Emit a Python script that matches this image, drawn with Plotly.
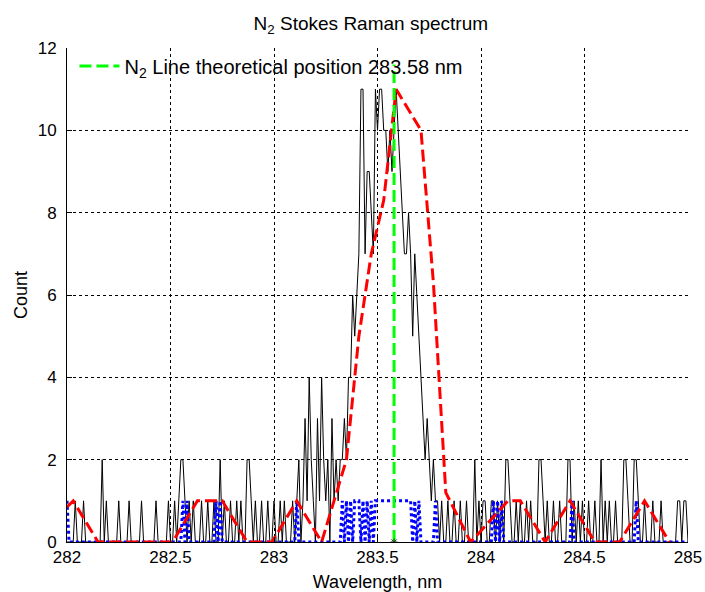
import plotly.graph_objects as go

# ---------------- data ----------------
# Measured spectrum (counts) sampled every 0.01 nm from 282.00 to 285.00 nm
wl_start = 282.0
wl_step = 0.01
counts = [
    0, 0, 0, 0, 1, 0, 0, 0, 1, 0,      # 282.00
    0, 0, 0, 0, 0, 0, 0, 2, 0, 1,      # 282.10
    0, 0, 0, 0, 0, 1, 0, 0, 0, 0,      # 282.20
    1, 0, 0, 0, 0, 0, 1, 0, 0, 0,      # 282.30
    0, 0, 0, 1, 0, 0, 0, 0, 0, 1,      # 282.40
    0, 0, 1, 0, 1, 2, 2, 1, 0, 1,      # 282.50
    0, 1, 0, 0, 0, 1, 0, 0, 1, 0,      # 282.60
    0, 1, 0, 0, 2, 0, 1, 0, 0, 1,      # 282.70
    0, 0, 1, 0, 1, 0, 0, 2, 2, 1,      # 282.80
    0, 1, 0, 0, 1, 0, 0, 1, 0, 0,      # 282.90
    1, 0, 0, 1, 0, 1, 0, 0, 0, 1,      # 283.00
    0, 1, 2, 0, 1, 3, 1, 4, 2, 1,      # 283.10
    0, 3, 1, 4, 2, 1, 2, 0, 3, 1,      # 283.20
    2, 1, 2, 2, 3, 2, 4, 4, 6, 5,      # 283.30
    6, 7, 11, 11, 7, 9, 9, 8, 7, 11,   # 283.40
    10, 11, 11, 10, 10, 9, 10, 9, 10, 11,  # 283.50
    10, 9, 8, 7, 7, 8, 7, 5, 7, 6,     # 283.60
    5, 4, 3, 2, 3, 2, 1, 2, 1, 1,      # 283.70
    0, 1, 0, 0, 1, 0, 0, 1, 0, 0,      # 283.80
    1, 0, 0, 1, 0, 0, 0, 2, 0, 1,      # 283.90
    0, 1, 1, 0, 0, 1, 1, 0, 1, 0,      # 284.00
    1, 0, 2, 2, 1, 0, 0, 1, 0, 1,      # 284.10
    0, 0, 1, 0, 1, 0, 0, 0, 2, 2,      # 284.20
    1, 0, 1, 0, 0, 1, 0, 0, 1, 0,      # 284.30
    0, 0, 2, 2, 0, 1, 0, 1, 0, 1,      # 284.40
    0, 0, 1, 0, 0, 1, 0, 0, 2, 0,      # 284.50
    1, 0, 1, 0, 0, 1, 0, 0, 0, 2,      # 284.60
    2, 1, 0, 0, 2, 2, 1, 0, 0, 1,      # 284.70
    0, 0, 0, 1, 0, 0, 0, 1, 0, 0,      # 284.80
    0, 0, 0, 0, 0, 1, 1, 0, 1, 1,      # 284.90
    0,                                 # 285.00
]

# Binary detection trace (same sampling)
detect = [
    1, 0, 0, 0, 0, 0, 0, 0, 0, 0,      # 282.00
    0, 0, 0, 0, 0, 0, 0, 0, 0, 0,      # 282.10
    0, 0, 0, 0, 0, 0, 0, 0, 0, 0,      # 282.20
    0, 0, 0, 0, 0, 0, 0, 0, 0, 0,      # 282.30
    0, 0, 0, 0, 0, 0, 0, 0, 0, 0,      # 282.40
    0, 0, 0, 0, 0, 0, 1, 0, 1, 0,      # 282.50
    0, 0, 0, 0, 0, 0, 0, 0, 0, 0,      # 282.60
    0, 0, 1, 0, 1, 0, 0, 0, 0, 0,      # 282.70
    0, 0, 0, 0, 0, 0, 0, 0, 0, 0,      # 282.80
    0, 0, 0, 0, 0, 0, 0, 0, 0, 0,      # 282.90
    0, 0, 0, 0, 0, 0, 0, 0, 0, 0,      # 283.00
    0, 1, 0, 0, 0, 0, 0, 0, 0, 0,      # 283.10
    0, 0, 0, 0, 0, 0, 0, 0, 0, 0,      # 283.20
    0, 0, 0, 1, 0, 1, 0, 1, 0, 1,      # 283.30
    1, 1, 0, 1, 0, 1, 0, 1, 0, 1,      # 283.40
    1, 1, 1, 1, 1, 1, 1, 1, 1, 1,      # 283.50
    1, 1, 1, 1, 1, 1, 1, 0, 1, 0,      # 283.60
    1, 0, 0, 0, 0, 0, 0, 0, 1, 0,      # 283.70
    0, 0, 0, 0, 0, 0, 0, 0, 0, 0,      # 283.80
    0, 0, 0, 0, 0, 0, 0, 0, 0, 0,      # 283.90
    0, 0, 0, 0, 0, 0, 1, 0, 1, 0,      # 284.00
    1, 0, 0, 0, 0, 0, 0, 0, 0, 0,      # 284.10
    0, 0, 0, 0, 0, 0, 0, 0, 0, 0,      # 284.20
    0, 0, 0, 0, 0, 0, 0, 0, 0, 0,      # 284.30
    0, 0, 0, 0, 1, 0, 0, 0, 0, 0,      # 284.40
    0, 0, 0, 0, 0, 0, 0, 0, 0, 0,      # 284.50
    0, 0, 0, 0, 0, 0, 0, 0, 0, 0,      # 284.60
    0, 0, 0, 0, 0, 1, 0, 0, 0, 0,      # 284.70
    0, 0, 0, 0, 0, 0, 0, 0, 0, 0,      # 284.80
    0, 0, 0, 0, 0, 0, 0, 0, 0, 0,      # 284.90
    0,                                 # 285.00
]

# Smoothed spectrum (coarser sampling)
smooth_wl = [282.00, 282.03, 282.09, 282.15, 282.21, 282.27, 282.33, 282.39,
             282.45, 282.51, 282.57, 282.63, 282.69, 282.75, 282.81, 282.87,
             282.93, 282.99, 283.05, 283.11, 283.17, 283.23, 283.29, 283.35,
             283.41, 283.47, 283.53, 283.59, 283.65, 283.71, 283.77, 283.83,
             283.89, 283.95, 284.01, 284.07, 284.13, 284.19, 284.25, 284.31,
             284.37, 284.43, 284.49, 284.55, 284.61, 284.67, 284.73, 284.79,
             284.85, 284.91]
smooth_cnt = [0.85, 1.0, 0.5, 0, 0, 0, 0, 0,
              0, 0, 0.5, 1.0, 1.0, 1.0, 0.5, 0,
              0, 0, 0.5, 1.0, 0.5, 0, 1.0, 2.0,
              5.0, 7.0, 8.3, 11.0, 10.5, 10.0, 6.3, 1.2,
              0.6, 0, 0.33, 0.67, 1.0, 1.0, 0.5, 0,
              0.5, 1.0, 0.5, 0, 0, 0, 0.5, 1.0,
              0.5, 0]

line_pos = 283.58
line_top = 11.6
legend_label = "N<sub>2</sub> Line theoretical position 283.58 nm"
title_text = "N<sub>2</sub> Stokes Raman spectrum"
x_label = "Wavelength, nm"
y_label = "Count"
x_ticks = [282, 282.5, 283, 283.5, 284, 284.5, 285]
x_ticktext = ["282", "282.5", "283", "283.5", "284", "284.5", "285"]
y_ticks = [0, 2, 4, 6, 8, 10, 12]

wl = [round(wl_start + wl_step * i, 2) for i in range(len(counts))]

FONT = "Liberation Sans, Arial, sans-serif"

fig = go.Figure()

fig.add_trace(go.Scatter(
    x=wl, y=counts, mode="lines",
    line=dict(color="black", width=1),
    showlegend=False, hoverinfo="skip"))

fig.add_trace(go.Scatter(
    x=wl, y=detect, mode="lines",
    line=dict(color="#0000FF", width=3, dash="3px,3px"),
    showlegend=False, hoverinfo="skip"))

fig.add_trace(go.Scatter(
    x=smooth_wl, y=smooth_cnt, mode="lines",
    line=dict(color="#FF0000", width=3, dash="12px,5px"),
    showlegend=False, hoverinfo="skip"))

fig.add_trace(go.Scatter(
    x=[line_pos, line_pos], y=[0, line_top], mode="lines",
    line=dict(color="#00FF00", width=3, dash="12px,5px"),
    name=legend_label, showlegend=True, hoverinfo="skip"))

fig.add_trace(go.Scatter(
    x=[line_pos], y=[0], mode="markers",
    marker=dict(symbol="asterisk-open", size=6, color="#333333",
                line=dict(width=1, color="#333333")),
    showlegend=False, hoverinfo="skip"))

fig.update_layout(
    width=705, height=592,
    margin=dict(l=67, r=17, t=48, b=50, autoexpand=False),
    paper_bgcolor="white", plot_bgcolor="white",
    font=dict(family=FONT, size=17, color="black"),
    title=dict(text=title_text, x=0.526, xanchor="center",
               y=1 - 23 / 592, yanchor="middle",
               font=dict(family=FONT, size=19, color="black")),
    legend=dict(x=0.012, y=1.003, xanchor="left", yanchor="top",
                bgcolor="rgba(0,0,0,0)", borderwidth=0, itemwidth=40,
                font=dict(family=FONT, size=20, color="black")),
    showlegend=True,
)

fig.update_xaxes(
    range=[282, 285], tickvals=x_ticks, ticktext=x_ticktext,
    showline=True, linecolor="black", linewidth=1, mirror=False,
    ticks="inside", ticklen=5, tickcolor="black",
    showgrid=True, gridcolor="black", gridwidth=1, griddash="3px,3px",
    zeroline=False, automargin=False,
    title=dict(text=x_label, standoff=11, font=dict(family=FONT, size=18)),
    tickfont=dict(family=FONT, size=17),
)
fig.update_yaxes(
    range=[0, 12], tickvals=y_ticks,
    showline=True, linecolor="black", linewidth=1, mirror=False,
    ticks="inside", ticklen=5, tickcolor="black",
    showgrid=True, gridcolor="black", gridwidth=1, griddash="3px,3px",
    zeroline=False, automargin=False,
    title=dict(text=y_label, standoff=5, font=dict(family=FONT, size=18)),
    tickfont=dict(family=FONT, size=17),
    ticklabelstandoff=6,
)

fig.write_html("out.html")
